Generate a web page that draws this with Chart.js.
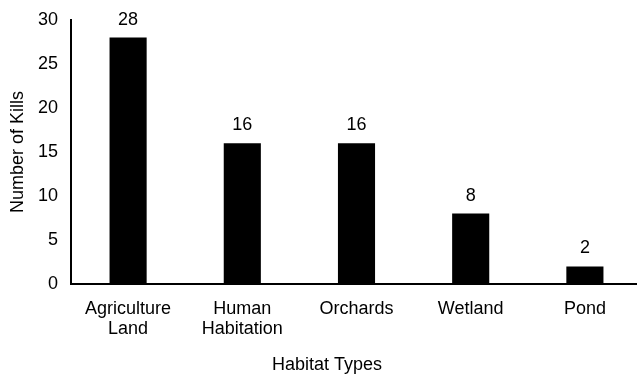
<!DOCTYPE html>
<html>
<head>
<meta charset="utf-8">
<script src="https://cdn.jsdelivr.net/npm/chart.js@4"></script>
<style>
  html, body { margin: 0; padding: 0; background: #fff; overflow: hidden; }
  #wrap { width: 637px; height: 377px; overflow: hidden; }
</style>
</head>
<body>
<div id="wrap"><canvas id="killChart" width="642" height="377"></canvas></div>
<script>
// Data
const habitats = [["Agriculture", "Land"], ["Human", "Habitation"], "Orchards", "Wetland", "Pond"];
const kills = [28, 16, 16, 8, 2];
const yTicks = [0, 5, 10, 15, 20, 25, 30];
const xTitle = 'Habitat Types';

const FONT = "'Liberation Sans', Arial, sans-serif";

// value labels above bars + x axis title (sits left of the plot centre in the original)
const barLabels = {
  id: 'barLabels',
  afterDatasetsDraw(chart) {
    const ctx = chart.ctx;
    const meta = chart.getDatasetMeta(0);
    ctx.save();
    ctx.font = '18px ' + FONT;
    ctx.fillStyle = '#000';
    ctx.textAlign = 'center';
    ctx.textBaseline = 'middle';
    meta.data.forEach((bar, i) => {
      ctx.fillText(kills[i], bar.x, bar.y - 18);
    });
    ctx.fillText(xTitle, 327, 365);
    ctx.restore();
  }
};

const ctx = document.getElementById('killChart').getContext('2d');
new Chart(ctx, {
  type: 'bar',
  data: {
    labels: habitats,
    datasets: [{
      data: kills,
      backgroundColor: '#000',
      borderWidth: 0,
      categoryPercentage: 1,
      barPercentage: 0.325
    }]
  },
  options: {
    responsive: false,
    animation: false,
    layout: { padding: { top: 20, right: 0, left: 0, bottom: 0 } },
    plugins: { legend: { display: false }, tooltip: { enabled: false } },
    scales: {
      x: {
        grid: { display: false, drawTicks: false },
        border: { display: true, color: '#000', width: 2 },
        ticks: { color: '#000', font: { family: FONT, size: 18, lineHeight: 1.1 }, padding: 15, maxRotation: 0, autoSkip: false },
        title: { display: false },
        afterFit(scale) { scale.height = 93; scale.paddingRight = 0; }
      },
      y: {
        min: 0,
        max: 30,
        afterBuildTicks(scale) { scale.ticks = yTicks.map(v => ({ value: v })); },
        grid: { display: false, drawTicks: false },
        border: { display: true, color: '#000', width: 2 },
        ticks: { color: '#000', font: { family: FONT, size: 18 }, padding: 13 },
        title: { display: true, text: 'Number of Kills', color: '#000', font: { family: FONT, size: 18 }, padding: { top: 7, bottom: 0 } },
        afterFit(scale) {
          scale.width = 71;
          scale.paddingTop = 0;
          scale.paddingBottom = 0;
        }
      }
    }
  },
  plugins: [barLabels]
});
</script>
</body>
</html>
